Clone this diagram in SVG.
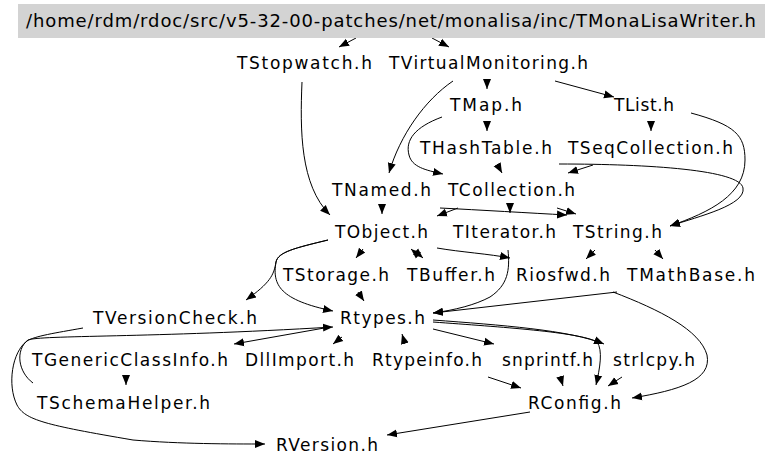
<svg xmlns="http://www.w3.org/2000/svg" width="768" height="466" viewBox="0 0 768 466">
<style>
text{font-family:"DejaVu Sans","Liberation Sans",sans-serif;font-size:17px;fill:#000}
.root{font-size:18px}
.e{fill:none;stroke:#000;stroke-width:1;marker-end:url(#ah)}
</style>
<defs>
<marker id="ah" markerUnits="userSpaceOnUse" markerWidth="12" markerHeight="10" refX="10" refY="0" viewBox="0 -5 12 10" orient="auto">
<path d="M0,-4 L10,0 L0,4 z" fill="#000"/>
</marker>
</defs>
<rect width="768" height="466" fill="#fff"/>
<g id="connectors">
<path class="e" d="M356,38 L339,47"/>
<path class="e" d="M432,38 L449,47"/>
<path class="e" d="M487,79 L487,89"/>
<path class="e" d="M555,81 L614,97"/>
<path class="e" d="M487,121 L487,131"/>
<path class="e" d="M651,121 L651,131"/>
<path class="e" d="M691,113 C735,125 745,135 745,160 C745,195 710,212 670,226"/>
<path class="e" d="M559,164 C650,164 740,170 743,188 C746,205 700,216 670,226"/>
<path class="e" d="M453,81 C425,100 400,135 389,173"/>
<path class="e" d="M442,117 C415,127 405,140 409,155 C412,167 425,170 443,174"/>
<path class="e" d="M497,164 L502,173"/>
<path class="e" d="M593,165 L568,173"/>
<path class="e" d="M302,82 C300,130 300,185 330,215"/>
<path class="e" d="M382,204 L382,214"/>
<path class="e" d="M458,208 L437,216"/>
<path class="e" d="M440,208 C480,210 530,213 567,215"/>
<path class="e" d="M510,203 L510,213"/>
<path class="e" d="M557,208 L576,214"/>
<path class="e" d="M363,249 L356,258"/>
<path class="e" d="M415,251 L423,258"/>
<path class="e" d="M419,256 L411,249"/>
<path class="e" d="M437,248 C460,252 490,254 510,258"/>
<path class="e" d="M508,250 C510,270 508,285 490,297 C475,305 455,310 433,313"/>
<path class="e" d="M328,240 C295,248 278,252 276,262 C274,275 270,283 246,300"/>
<path class="e" d="M328,240 C295,248 278,252 276,262 C272,285 280,300 333,311"/>
<path class="e" d="M358,292 L364,301"/>
<path class="e" d="M595,250 L586,259"/>
<path class="e" d="M655,250 L663,259"/>
<path class="e" d="M617,292 L433,313"/>
<path class="e" d="M613,292 C660,310 700,330 707,355 C712,380 680,390 632,398"/>
<path class="e" d="M330,327 L234,344"/>
<path class="e" d="M342,337 L333,344"/>
<path class="e" d="M405,344 L402,334"/>
<path class="e" d="M433,329 L494,344"/>
<path class="e" d="M433,320 C500,325 570,330 604,344"/>
<path class="e" d="M433,322 C500,327 580,332 597,342 C603,350 600,368 596,385"/>
<path class="e" d="M488,377 L521,388"/>
<path class="e" d="M560,376 L563,386"/>
<path class="e" d="M622,377 L608,386"/>
<path class="e" d="M126,375 L126,385"/>
<path class="e" d="M33,383 C18,372 15,350 28,340 C40,335 150,338 333,327"/>
<path class="e" d="M83,328 C55,333 35,336 27,341 C12,352 7,385 17,405 C25,420 45,425 133,440 C180,444 230,444 265,444"/>
<path class="e" d="M530,412 L387,435"/>
</g>
<g id="n_root"><rect x="18" y="4" width="747" height="34" fill="#d3d3d3"/><text class="root" x="26" y="27" textLength="730" lengthAdjust="spacing">/home/rdm/rdoc/src/v5-32-00-patches/net/monalisa/inc/TMonaLisaWriter.h</text></g>
<g id="n_TStopwatch"><text x="237" y="69" textLength="135" lengthAdjust="spacing">TStopwatch.h</text></g>
<g id="n_TVirtualMonitoring"><text x="389" y="69" textLength="199" lengthAdjust="spacing">TVirtualMonitoring.h</text></g>
<g id="n_TMap"><text x="450" y="111" textLength="72" lengthAdjust="spacing">TMap.h</text></g>
<g id="n_TList"><text x="614" y="111" textLength="60" lengthAdjust="spacing">TList.h</text></g>
<g id="n_THashTable"><text x="420" y="154" textLength="132" lengthAdjust="spacing">THashTable.h</text></g>
<g id="n_TSeqCollection"><text x="568" y="154" textLength="165" lengthAdjust="spacing">TSeqCollection.h</text></g>
<g id="n_TNamed"><text x="332" y="196" textLength="99" lengthAdjust="spacing">TNamed.h</text></g>
<g id="n_TCollection"><text x="448" y="196" textLength="127" lengthAdjust="spacing">TCollection.h</text></g>
<g id="n_TObject"><text x="335" y="238" textLength="93" lengthAdjust="spacing">TObject.h</text></g>
<g id="n_TIterator"><text x="453" y="238" textLength="103" lengthAdjust="spacing">TIterator.h</text></g>
<g id="n_TString"><text x="573" y="238" textLength="89" lengthAdjust="spacing">TString.h</text></g>
<g id="n_TStorage"><text x="283" y="281" textLength="106" lengthAdjust="spacing">TStorage.h</text></g>
<g id="n_TBuffer"><text x="407" y="281" textLength="88" lengthAdjust="spacing">TBuffer.h</text></g>
<g id="n_Riosfwd"><text x="516" y="281" textLength="94" lengthAdjust="spacing">Riosfwd.h</text></g>
<g id="n_TMathBase"><text x="627" y="281" textLength="128" lengthAdjust="spacing">TMathBase.h</text></g>
<g id="n_TVersionCheck"><text x="93" y="324" textLength="164" lengthAdjust="spacing">TVersionCheck.h</text></g>
<g id="n_Rtypes"><text x="340" y="324" textLength="85" lengthAdjust="spacing">Rtypes.h</text></g>
<g id="n_TGenericClassInfo"><text x="32" y="366" textLength="196" lengthAdjust="spacing">TGenericClassInfo.h</text></g>
<g id="n_DllImport"><text x="245" y="366" textLength="109" lengthAdjust="spacing">DllImport.h</text></g>
<g id="n_Rtypeinfo"><text x="372" y="366" textLength="110" lengthAdjust="spacing">Rtypeinfo.h</text></g>
<g id="n_snprintf"><text x="502" y="366" textLength="91" lengthAdjust="spacing">snprintf.h</text></g>
<g id="n_strlcpy"><text x="613" y="366" textLength="82" lengthAdjust="spacing">strlcpy.h</text></g>
<g id="n_TSchemaHelper"><text x="37" y="409" textLength="173" lengthAdjust="spacing">TSchemaHelper.h</text></g>
<g id="n_RConfig"><text x="528" y="409" textLength="93" lengthAdjust="spacing">RConfig.h</text></g>
<g id="n_RVersion"><text x="276" y="451" textLength="102" lengthAdjust="spacing">RVersion.h</text></g>
</svg>
